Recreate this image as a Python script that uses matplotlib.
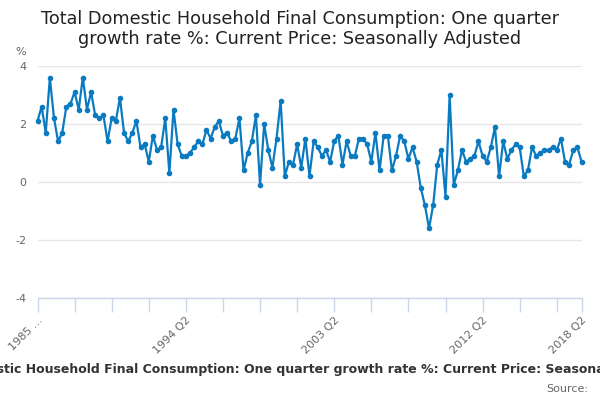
import matplotlib
matplotlib.use('Agg')
import matplotlib.pyplot as plt

plt.rcParams['axes.unicode_minus'] = False

# quarterly growth rate %, 1985 Q2 .. 2018 Q2
growth = [
    2.1, 2.6, 1.7, 3.6, 2.2, 1.4, 1.7, 2.6, 2.7, 3.1,
    2.5, 3.6, 2.5, 3.1, 2.3, 2.2, 2.3, 1.4, 2.2, 2.1,
    2.9, 1.7, 1.4, 1.7, 2.1, 1.2, 1.3, 0.7, 1.6, 1.1,
    1.2, 2.2, 0.3, 2.5, 1.3, 0.9, 0.9, 1.0, 1.2, 1.4,
    1.3, 1.8, 1.5, 1.9, 2.1, 1.6, 1.7, 1.4, 1.5, 2.2,
    0.4, 1.0, 1.4, 2.3, -0.1, 2.0, 1.1, 0.5, 1.5, 2.8,
    0.2, 0.7, 0.6, 1.3, 0.5, 1.5, 0.2, 1.4, 1.2, 0.9,
    1.1, 0.7, 1.4, 1.6, 0.6, 1.4, 0.9, 0.9, 1.5, 1.5,
    1.3, 0.7, 1.7, 0.4, 1.6, 1.6, 0.4, 0.9, 1.6, 1.4,
    0.8, 1.2, 0.7, -0.2, -0.8, -1.6, -0.8, 0.6, 1.1, -0.5,
    3.0, -0.1, 0.4, 1.1, 0.7, 0.8, 0.9, 1.4, 0.9, 0.7,
    1.2, 1.9, 0.2, 1.4, 0.8, 1.1, 1.3, 1.2, 0.2, 0.4,
    1.2, 0.9, 1.0, 1.1, 1.1, 1.2, 1.1, 1.5, 0.7, 0.6,
    1.1, 1.2, 0.7,
]
start_year = 1985
start_q = 2
tick_every = 9
label_idx = [0, 36, 72, 108, 132]
title = ("Total Domestic Household Final Consumption: One quarter growth rate %: "
         "Current Price: Seasonally Adjusted")


def quarter_label(i):
    q = start_q - 1 + i
    return f"{start_year + q // 4} Q{q % 4 + 1}"


x = list(range(len(growth)))

fig = plt.figure(figsize=(6, 4), dpi=100)
ax = fig.add_axes([37.5 / 600, 102 / 400, 544 / 600, 232 / 400])

ax.plot(x, growth, color='#0a7bc1', linewidth=1.6, marker='o', markersize=3,
        clip_on=False, zorder=3)

ax.set_xlim(0, len(growth) - 1)
ax.set_ylim(-4, 4)
ax.set_yticks([-4, -2, 0, 2, 4])
ax.grid(axis='y', color='#e6e6e6', linewidth=1)
ax.set_axisbelow(True)

for side in ['top', 'right', 'left']:
    ax.spines[side].set_visible(False)
ax.spines['bottom'].set_color('#ccd6eb')
ax.spines['bottom'].set_linewidth(1)

ticks = list(range(0, len(growth), tick_every)) + [len(growth) - 1]
ax.set_xticks(ticks)
labels = []
for t in ticks:
    if t == 0:
        labels.append(f"{start_year} …")
    elif t in label_idx:
        labels.append(quarter_label(t))
    else:
        labels.append('')
ax.set_xticklabels(labels, rotation=45, ha='right', rotation_mode='anchor',
                   fontsize=8, color='#666666')
ax.tick_params(axis='x', length=10, width=1, color='#ccd6eb', pad=2)
ax.tick_params(axis='y', length=0, labelsize=8, labelcolor='#666666', pad=8)

fig.text(15 / 600, 1 - 52 / 400, '%', fontsize=8, color='#666666',
         ha='left', va='center')
fig.text(0.5, 1 - 29 / 400,
         "Total Domestic Household Final Consumption: One quarter\n"
         "growth rate %: Current Price: Seasonally Adjusted",
         fontsize=12.7, color='#222222', ha='center', va='center',
         linespacing=1.15)
# the source line is wider than the chart and gets cut at both edges
fig.text(0.505, 1 - 369 / 400, title, fontsize=9.0, fontweight='bold',
         color='#333333', ha='center', va='center')
fig.text(588 / 600, 1 - 389 / 400, 'Source:', fontsize=8, color='#666666',
         ha='right', va='center')

fig.savefig('out.png', dpi=100)
